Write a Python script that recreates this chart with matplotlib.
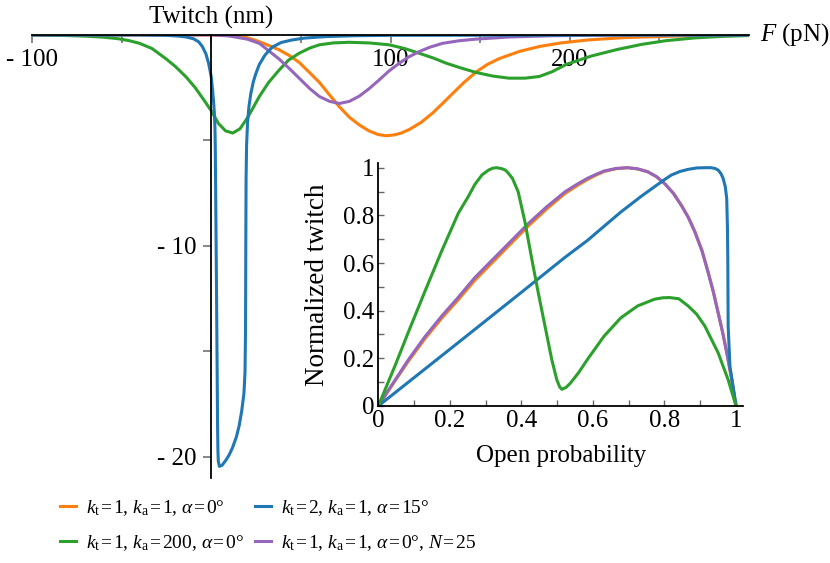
import matplotlib
matplotlib.use("Agg")
import matplotlib.pyplot as plt

plt.rcParams['font.family'] = ['Liberation Serif', 'DejaVu Serif']
plt.rcParams['mathtext.fontset'] = 'custom'
plt.rcParams['mathtext.rm'] = 'Liberation Serif'
plt.rcParams['mathtext.it'] = 'Liberation Serif:italic'
plt.rcParams['font.size'] = 18

# main panel: twitch (nm) vs force F (pN)
f_orange = [-100, 0, 10, 20, 26.8, 32, 37.9, 44, 49, 55, 60.3, 66, 71.4, 77, 82.6, 88, 93,
            97.5, 102, 106, 110.5, 117, 123.5, 129, 134.6, 141, 147.7, 154, 160.7, 172, 183,
            195, 210, 230, 257, 300]
t_orange = [0, 0, -0.03, -0.13, -0.32, -0.5, -0.71, -1.0, -1.3, -1.8, -2.25, -2.85, -3.4,
            -3.9, -4.27, -4.55, -4.72, -4.78, -4.74, -4.65, -4.48, -4.15, -3.7, -3.25, -2.78,
            -2.25, -1.76, -1.4, -1.12, -0.78, -0.55, -0.38, -0.24, -0.13, -0.06, -0.02]

f_purple = [-100, 0, 10, 20, 26.8, 32, 37.9, 43, 49, 55, 60.3, 66, 71.4, 77, 82.6, 88, 93.7,
            99, 104.9, 110, 116, 122, 129, 138, 147.7, 166, 190, 220, 300]
t_purple = [0, 0, -0.05, -0.2, -0.4, -0.75, -1.15, -1.55, -2.05, -2.55, -2.92, -3.15, -3.25,
            -3.15, -2.9, -2.55, -2.13, -1.72, -1.34, -1.05, -0.79, -0.58, -0.4, -0.28, -0.2,
            -0.1, -0.04, -0.01, 0]

f_green = [-100, -85, -70, -60, -52, -46, -40, -33, -25, -20, -14, -9, -4, 0, 4, 8, 12, 16,
           20, 23, 26.8, 32, 37.9, 43, 49, 55, 60.3, 68, 77, 88, 99.3, 108, 116, 124, 131,
           139, 147.7, 157, 166, 175, 183, 190, 198, 212, 226, 240, 254, 270, 285, 300]
t_green = [0, -0.02, -0.06, -0.11, -0.18, -0.27, -0.4, -0.65, -1.15, -1.5, -2.0, -2.5, -3.1,
           -3.6, -4.2, -4.55, -4.65, -4.45, -3.95, -3.5, -2.92, -2.25, -1.66, -1.2, -0.87,
           -0.62, -0.47, -0.38, -0.35, -0.38, -0.47, -0.65, -0.87, -1.1, -1.34, -1.56, -1.78,
           -1.95, -2.05, -2.05, -1.97, -1.75, -1.4, -1.0, -0.7, -0.45, -0.27, -0.14, -0.07,
           -0.03]

f_blue = [-100, -40, -25, -18, -14, -10, -7, -5, -3, -1.5, 0, 0.7, 1.3, 1.7, 2.0, 2.2, 2.4,
          2.6, 2.9, 3.2, 3.5, 3.7, 3.9, 4.5, 6, 8.2, 10, 11.9, 14, 15.6, 17, 18.2, 18.8, 19.1,
          19.25, 19.4, 19.7, 20.2, 21, 22, 23.5, 25, 26.8, 30, 34, 39, 45, 52, 64, 80, 100, 300]
t_blue = [0, 0, -0.02, -0.06, -0.1, -0.18, -0.33, -0.55, -0.9, -1.35, -2.0, -2.6, -3.2, -3.7,
          -4.3, -5.2, -7.0, -9.0, -12.0, -15.2, -18.5, -19.7, -20.2, -20.45, -20.4, -20.15,
          -19.9, -19.55, -19.05, -18.5, -17.8, -17.0, -16.0, -14.0, -10.0, -6.8, -5.2, -4.2,
          -3.4, -2.8, -2.2, -1.8, -1.4, -0.95, -0.58, -0.36, -0.24, -0.15, -0.08, -0.04,
          -0.02, 0]

x_ticks = [-100, -50, 0, 50, 100, 150, 200, 250]
x_ticklabels = ['- 100', '', '', '', '100', '', '200', '']
y_ticks = [-20, -15, -10, -5]
y_ticklabels = ['- 20', '', '- 10', '']

# inset: normalized twitch vs open probability
p_purple = [0, 0.03, 0.084, 0.13, 0.177, 0.22, 0.27, 0.32, 0.363, 0.419, 0.47, 0.522, 0.555,
            0.584, 0.61, 0.631, 0.665, 0.697, 0.725, 0.753, 0.778, 0.8, 0.825, 0.847, 0.867,
            0.885, 0.905, 0.922, 0.937, 0.95, 0.963, 0.974, 0.987, 1.0]
n_purple = [0, 0.07, 0.194, 0.29, 0.377, 0.45, 0.539, 0.615, 0.68, 0.765, 0.835, 0.899, 0.93,
            0.955, 0.973, 0.986, 0.997, 1.0, 0.995, 0.983, 0.962, 0.934, 0.892, 0.842, 0.79,
            0.73, 0.65, 0.56, 0.475, 0.39, 0.305, 0.223, 0.12, 0]
p_orange = p_purple
n_orange = [0, 0.068, 0.188, 0.282, 0.368, 0.44, 0.528, 0.604, 0.67, 0.755, 0.826, 0.892,
            0.924, 0.95, 0.97, 0.984, 0.996, 1.0, 0.995, 0.983, 0.962, 0.934, 0.893, 0.843,
            0.791, 0.732, 0.652, 0.563, 0.478, 0.393, 0.307, 0.225, 0.12, 0]
p_blue = [0, 0.2, 0.4, 0.522, 0.584, 0.678, 0.735, 0.772, 0.8, 0.819, 0.843, 0.866, 0.89,
          0.913, 0.93, 0.941, 0.95, 0.958, 0.964, 0.97, 0.974, 0.976, 0.977, 0.978, 0.983, 1.0]
n_blue = [0, 0.238, 0.477, 0.624, 0.694, 0.814, 0.88, 0.92, 0.95, 0.969, 0.984, 0.993, 0.999,
          1.0, 1.0, 0.997, 0.99, 0.975, 0.955, 0.92, 0.87, 0.75, 0.617, 0.335, 0.166, 0]
p_green = [0, 0.047, 0.084, 0.13, 0.177, 0.224, 0.25, 0.27, 0.29, 0.308, 0.32, 0.331, 0.345,
           0.355, 0.363, 0.375, 0.391, 0.41, 0.429, 0.447, 0.466, 0.485, 0.499, 0.507, 0.513,
           0.525, 0.537, 0.56, 0.584, 0.631, 0.678, 0.725, 0.772, 0.795, 0.814, 0.84, 0.866,
           0.89, 0.913, 0.95, 0.978, 1.0]
n_green = [0, 0.17, 0.31, 0.48, 0.65, 0.81, 0.875, 0.93, 0.97, 0.99, 0.998, 1.0, 0.996, 0.99,
           0.978, 0.955, 0.899, 0.772, 0.617, 0.476, 0.335, 0.194, 0.11, 0.08, 0.07, 0.078,
           0.096, 0.14, 0.194, 0.293, 0.37, 0.42, 0.448, 0.454, 0.455, 0.45, 0.42, 0.385,
           0.335, 0.223, 0.11, 0]
inset_ticks = [0, 0.1, 0.2, 0.3, 0.4, 0.5, 0.6, 0.7, 0.8, 0.9, 1.0]
inset_ticklabels = ['0', '', '0.2', '', '0.4', '', '0.6', '', '0.8', '', '1']

eq = '\u200a=\u200a'
labels = [r'$k_\mathrm{t}$' + eq + '1, ' + r'$k_\mathrm{a}$' + eq + '1, '
          + r'$\alpha$' + eq + '0°',
          r'$k_\mathrm{t}$' + eq + '1, ' + r'$k_\mathrm{a}$' + eq + '200, '
          + r'$\alpha$' + eq + '0°',
          r'$k_\mathrm{t}$' + eq + '2, ' + r'$k_\mathrm{a}$' + eq + '1, '
          + r'$\alpha$' + eq + '15°',
          r'$k_\mathrm{t}$' + eq + '1, ' + r'$k_\mathrm{a}$' + eq + '1, '
          + r'$\alpha$' + eq + '0°, ' + r'$N$' + eq + '25']
c_orange, c_green, c_blue, c_purple = '#ff7f0e', '#2ca02c', '#1f77b4', '#9467bd'

fig = plt.figure(figsize=(8.3, 5.63), dpi=100)
ax = fig.add_axes([0.0386, 0.151, 0.8639, 0.787])
lw = 2.2
h1, = ax.plot(f_orange, t_orange, color=c_orange, lw=lw)
h2, = ax.plot(f_green, t_green, color=c_green, lw=lw)
h4, = ax.plot(f_purple, t_purple, color=c_purple, lw=lw)
h3, = ax.plot(f_blue, t_blue, color=c_blue, lw=lw)
ax.set_xlim(-100, 300)
ax.set_ylim(-21, 0)
for s in ['top', 'right']:
    ax.spines[s].set_visible(False)
ax.spines['bottom'].set_position(('data', 0))
ax.spines['left'].set_position(('data', 0))
for s in ['bottom', 'left']:
    ax.spines[s].set_linewidth(1.3)
ax.set_xticks(x_ticks, x_ticklabels)
ax.set_yticks(y_ticks, y_ticklabels)
ax.tick_params(direction='out', length=5.5, width=1.1, color='#666666', pad=5)
ax.text(0, 0.85, 'Twitch (nm)', ha='center', va='center', clip_on=False)
ax.text(306, 0, r'$F$ (pN)', ha='left', va='center', clip_on=False)
ax.patch.set_alpha(0)

axin = fig.add_axes([0.4558, 0.2789, 0.4396, 0.4317])
axin.plot(p_orange, n_orange, color=c_orange, lw=lw)
axin.plot(p_purple, n_purple, color=c_purple, lw=lw)
axin.plot(p_blue, n_blue, color=c_blue, lw=lw)
axin.plot(p_green, n_green, color=c_green, lw=lw)
axin.set_xlim(0, 1.02)
axin.set_ylim(0, 1.02)
for s in ['top', 'right']:
    axin.spines[s].set_visible(False)
for s in ['bottom', 'left']:
    axin.spines[s].set_linewidth(1.3)
axin.set_xticks(inset_ticks, inset_ticklabels)
axin.set_yticks(inset_ticks, inset_ticklabels)
axin.tick_params(direction='in', length=4, width=1, color='#666666', pad=3)
axin.patch.set_alpha(0)
axin.set_xlabel('Open probability')
axin.set_ylabel('Normalized twitch', fontsize=19.5)
axin.xaxis.set_label_coords(0.5, -0.16)
axin.yaxis.set_label_coords(-0.132, 0.5)

fig.legend([h1, h2, h3, h4], labels, ncol=2, loc='upper left',
           bbox_to_anchor=(0.072, 0.116), frameon=False, fontsize=14, handlelength=0.85,
           handletextpad=0.5, columnspacing=0.55, borderpad=0, borderaxespad=0,
           labelspacing=0.8)

fig.savefig('out.png', dpi=100)
